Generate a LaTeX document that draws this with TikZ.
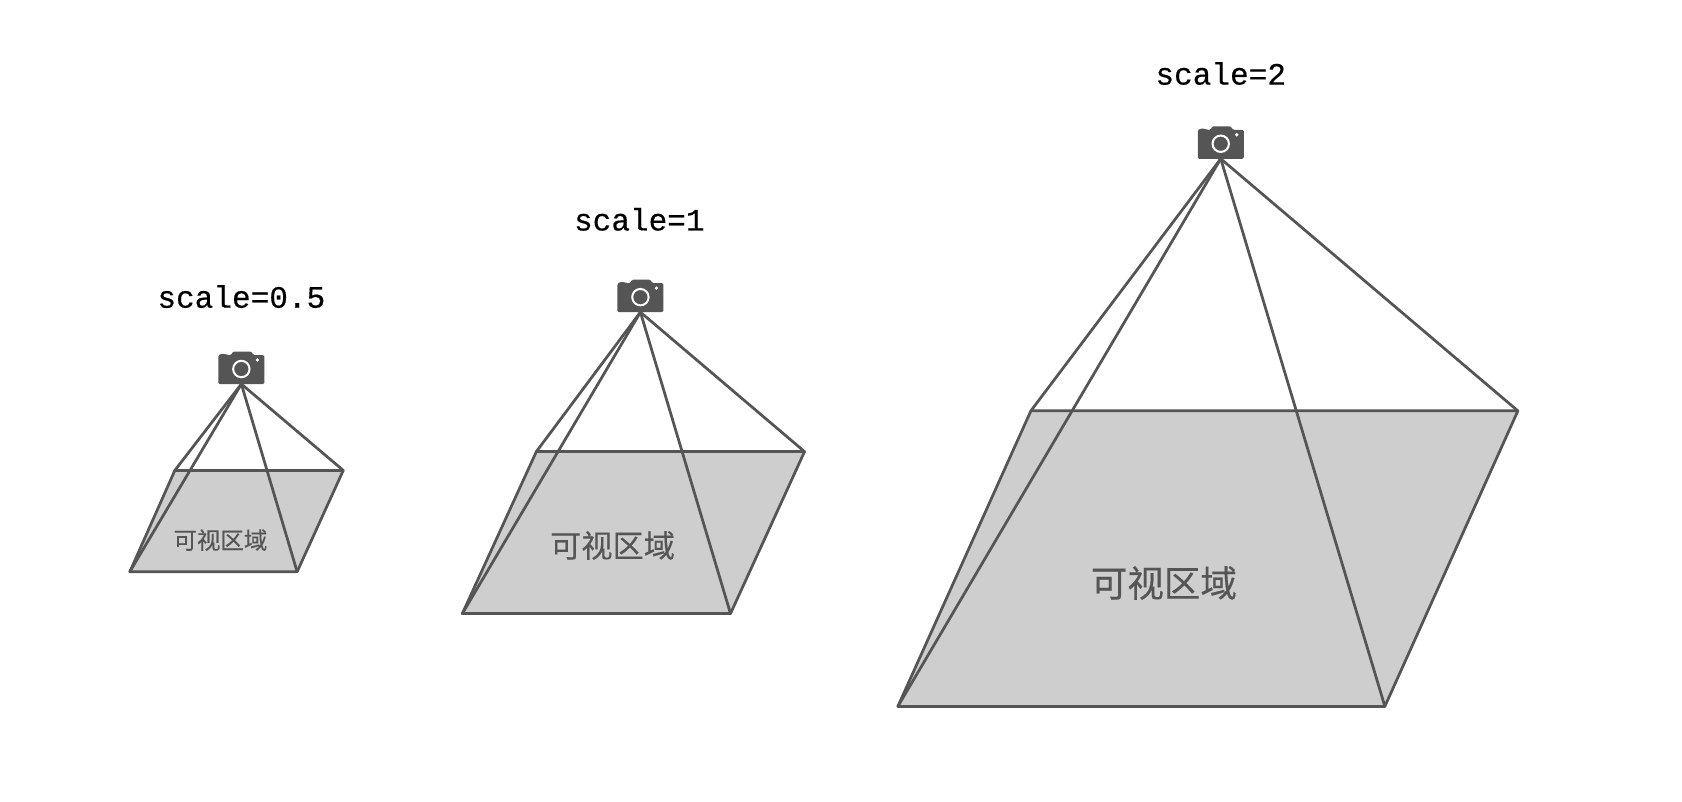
\documentclass[tikz,border=0pt]{standalone}
\usepackage{fontspec}
\newfontfamily\labelmono[FakeBold=0.35]{Liberation Mono}
\newfontfamily\cjk[FakeBold=0.25]{Noto Sans CJK SC}
\definecolor{ink}{HTML}{555555}
\definecolor{area}{HTML}{CECECE}
\tikzset{
  edge/.style={draw=ink,line width=2.05pt,line join=round,line cap=round},
  scalelabel/.style={font=\labelmono\fontsize{23.3}{24}\selectfont,text=black,inner sep=0pt},
  arealabel/.style={text=ink,inner sep=0pt},
  pics/camera/.style={code={
    \begin{scope}[x=0.75pt,y=-0.75pt]
      \fill[ink,rounded corners=1pt] (-23,0) -- (-23,-28.5) -- (-21,-30) -- (-16,-30.2) -- (-14,-29) -- (-10,-29)
        -- (-8.5,-32.5) -- (10,-32.5) -- (12,-29) -- (23,-29) -- (23,0) -- cycle;
      \draw[white,line width=1.5pt] (0,-15) circle (8.2);
      \fill[white] (16,-24) circle (1.8);
    \end{scope}
  }}
}
\newcommand{\pyramid}[6]{%
  \coordinate (#1A) at #2;
  \coordinate (#1TL) at #3;
  \coordinate (#1TR) at #4;
  \coordinate (#1BR) at #5;
  \coordinate (#1BL) at #6;
  \fill[area] (#1TL) -- (#1TR) -- (#1BR) -- (#1BL) -- cycle;
  \draw[edge] (#1TL) -- (#1TR) -- (#1BR) -- (#1BL) -- cycle;
  \draw[edge] (#1A) -- (#1TL);
  \draw[edge] (#1A) -- (#1TR);
  \draw[edge] (#1A) -- (#1BR);
  \draw[edge] (#1A) -- (#1BL);
  \pic at (#1A) {camera};
}
\begin{document}
\begin{tikzpicture}[x=0.8045pt,y=-0.8045pt]
\useasboundingbox (0,0) rectangle (1568,747.6);
\pyramid{p}{(225,358)}{(163,438.5)}{(320,438.5)}{(277,533)}{(121,533)}
\pyramid{q}{(597,291)}{(500,421)}{(750,421)}{(681,572)}{(431,572)}
\pyramid{r}{(1138,148)}{(961,383)}{(1415,383)}{(1291,658.5)}{(837,658.5)}
\node[scalelabel] (s1) at (225,276.5) {scale=0.5};
\node[scalelabel] (s2) at (596,204.5) {scale=1};
\node[scalelabel] (s3) at (1138,68.5) {scale=2};
\node[arealabel,font=\cjk\fontsize{17.6}{20}\selectfont] (a1) at (205.5,503.5) {可视区域};
\node[arealabel,font=\cjk\fontsize{23.4}{26}\selectfont] (a2) at (571,508.5) {可视区域};
\node[arealabel,font=\cjk\fontsize{27.4}{30}\selectfont] (a3) at (1085,543.5) {可视区域};
\end{tikzpicture}
\end{document}
